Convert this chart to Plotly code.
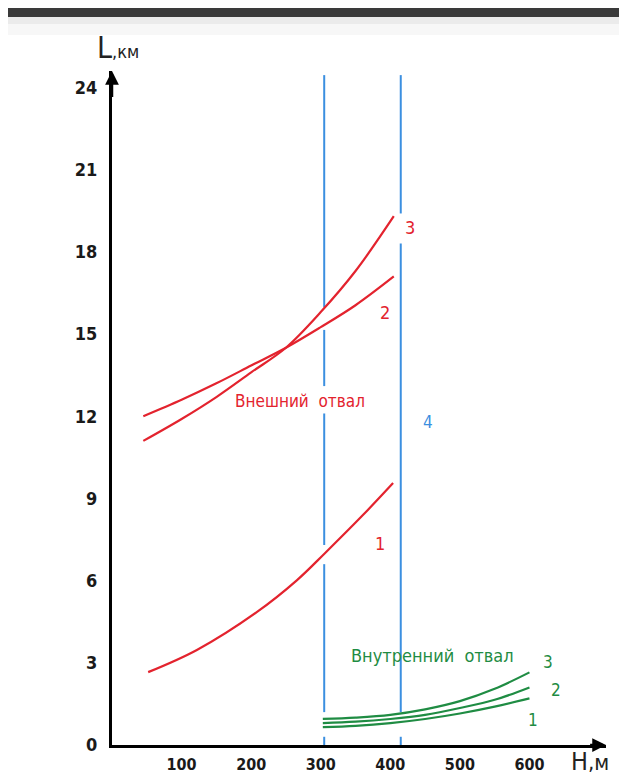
import plotly.graph_objects as go

# ---- data ----
ext_H = [45, 100, 150, 200, 250, 300, 350, 405]
ext_L1_H = [52, 122, 208, 266, 306, 361, 404]
ext_L1 = [2.66, 3.47, 4.85, 6.02, 7.0, 8.4, 9.56]
ext_L2 = [12.0, 12.6, 13.2, 13.85, 14.5, 15.25, 16.05, 17.1]
ext_L3 = [11.1, 11.9, 12.7, 13.6, 14.5, 15.8, 17.3, 19.3]

int_H = [303, 350, 400, 450, 500, 550, 600]
int_L1 = [0.65, 0.7, 0.8, 0.95, 1.15, 1.4, 1.7]
int_L2 = [0.8, 0.85, 0.95, 1.1, 1.35, 1.65, 2.1]
int_L3 = [0.95, 1.0, 1.1, 1.3, 1.6, 2.05, 2.65]

boundary_H = [305, 415]          # vertical lines "4"
boundary_gaps = [
    [(15.15, 15.98), (12.1, 13.1), (6.6, 7.3), (0.3, 1.2)],
    [(18.3, 19.4), (0.3, 1.2)],
]
boundary_L_span = (-0.1, 24.45)

x_ticks = [100, 200, 300, 400, 500, 600]
y_ticks = [0, 3, 6, 9, 12, 15, 18, 21, 24]

RED = "#e3232e"
GREEN = "#1f8c43"
BLUE = "#3b8fe0"
FONT = "Liberation Sans Narrow, DejaVu Sans Condensed, Arial Narrow, sans-serif"

fig = go.Figure()

# vertical boundary lines with small gaps
for h, gaps in zip(boundary_H, boundary_gaps):
    lo, hi = boundary_L_span
    pts_y = []
    cur = lo
    for g0, g1 in sorted(gaps):
        pts_y += [cur, g0, None]
        cur = g1
    pts_y += [cur, hi]
    pts_x = [h if v is not None else None for v in pts_y]
    fig.add_trace(go.Scatter(x=pts_x, y=pts_y, mode="lines",
                             line=dict(color=BLUE, width=2),
                             hoverinfo="skip", showlegend=False))

for hx, ly in [(ext_L1_H, ext_L1), (ext_H, ext_L2), (ext_H, ext_L3)]:
    fig.add_trace(go.Scatter(x=hx, y=ly, mode="lines", line_shape="spline",
                             line=dict(color=RED, width=2.2),
                             showlegend=False))

for ly in [int_L1, int_L2, int_L3]:
    fig.add_trace(go.Scatter(x=int_H, y=ly, mode="lines", line_shape="spline",
                             line=dict(color=GREEN, width=2.2),
                             showlegend=False))

X_END, Y_END = 710, 24.6

fig.update_xaxes(range=[0, X_END], tickvals=x_ticks, ticktext=[str(v) for v in x_ticks],
                 showgrid=False, zeroline=False, showline=True, linecolor="black",
                 linewidth=3, ticks="", ticklabelstandoff=3, automargin=False,
                 tickfont=dict(family=FONT, size=16, color="#1a1a1a", weight="bold"))
fig.update_yaxes(range=[0, Y_END], tickvals=y_ticks, ticktext=[str(v) for v in y_ticks],
                 showgrid=False, zeroline=False, showline=True, linecolor="black",
                 linewidth=3, ticks="", ticklabelstandoff=8, automargin=False,
                 tickfont=dict(family=FONT, size=18, color="#1a1a1a", weight="bold"))

ann = []
# axis arrows
ann.append(dict(x=X_END, y=0, ax=X_END - 25, ay=0, axref="x", ayref="y",
                xref="x", yref="y", text="", showarrow=True, arrowhead=2,
                arrowsize=1.1, arrowwidth=2.5, arrowcolor="black", standoff=0))
ann.append(dict(x=0, y=Y_END, ax=0, ay=Y_END - 1.0, axref="x", ayref="y",
                xref="x", yref="y", text="", showarrow=True, arrowhead=2,
                arrowsize=1.1, arrowwidth=2.5, arrowcolor="black", standoff=0))

# axis titles (paper coordinates, outside the plot area)
ann.append(dict(x=0.012, y=1.0356, xref="paper", yref="paper", showarrow=False,
                text='L<span style="font-size:18px">,км</span>',
                font=dict(family=FONT, size=30, color="#222"),
                xanchor="center", yanchor="middle"))
ann.append(dict(x=0.9676, y=-0.0252, xref="paper", yref="paper", showarrow=False,
                text='H<span style="font-size:22px">,м</span>',
                font=dict(family=FONT, size=25, color="#222"),
                xanchor="center", yanchor="middle"))

labels = [
    ("3", 428, 18.87, RED, 18),
    ("2", 392, 15.8, RED, 18),
    ("1", 385, 7.37, RED, 18),
    ("4", 454, 11.79, BLUE, 17),
    ("3", 627, 3.03, GREEN, 17),
    ("2", 638, 2.0, GREEN, 17),
    ("1", 605, 0.91, GREEN, 17),
    ("Внешний  отвал", 270, 12.55, RED, 17),
    ("Внутренний  отвал", 461, 3.28, GREEN, 18),
]
for t, x, y, c, s in labels:
    ann.append(dict(x=x, y=y, xref="x", yref="y", text=t, showarrow=False,
                    font=dict(family=FONT, size=s, color=c),
                    xanchor="center", yanchor="middle"))

W, H = 619, 770
ML, MR, MT, MB = 104, 21, 63, 33
plot_h = H - MT - MB
plot_w = W - ML - MR


def py2paper(py):
    return (H - MB - py) / plot_h


def px2paper(px):
    return (px - ML) / plot_w


shapes = [
    dict(type="rect", xref="paper", yref="paper", layer="below",
         x0=px2paper(0), x1=px2paper(W), y0=py2paper(9), y1=py2paper(0),
         fillcolor="#3a3a3a", line=dict(width=0)),
    dict(type="rect", xref="paper", yref="paper", layer="below",
         x0=px2paper(0), x1=px2paper(W), y0=py2paper(16), y1=py2paper(9),
         fillcolor="#ebebeb", line=dict(width=0)),
    dict(type="rect", xref="paper", yref="paper", layer="below",
         x0=px2paper(0), x1=px2paper(W), y0=py2paper(27), y1=py2paper(16),
         fillcolor="#f7f7f7", line=dict(width=0)),
]

fig.update_layout(width=W, height=H,
                  margin=dict(l=ML, r=MR, t=MT, b=MB),
                  paper_bgcolor="white", plot_bgcolor="white",
                  annotations=ann, shapes=shapes, showlegend=False)

fig.write_html("out.html")
